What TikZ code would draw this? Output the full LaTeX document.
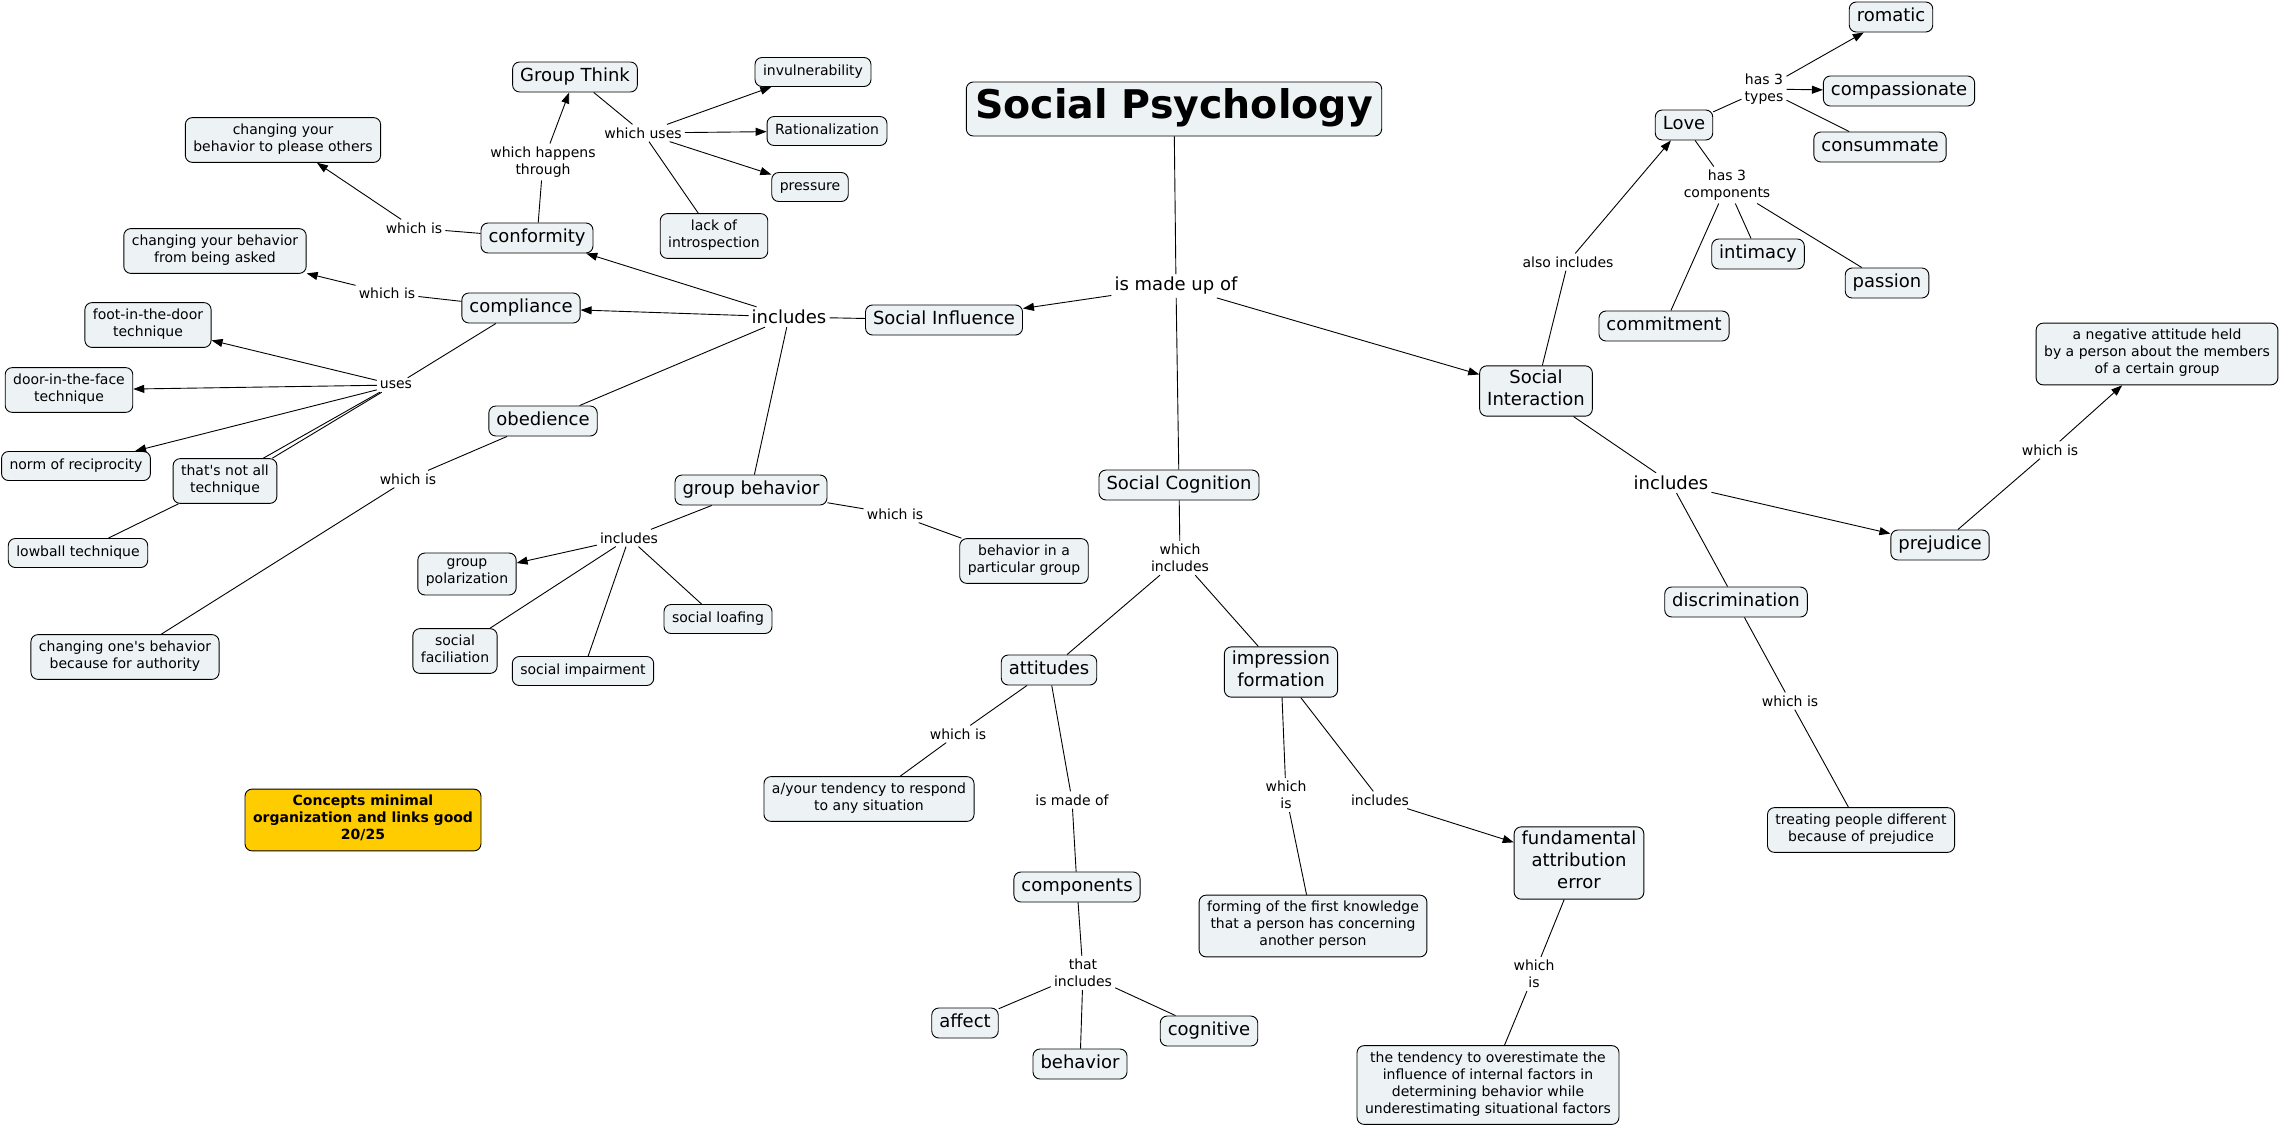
\documentclass[tikz,border=0pt]{standalone}
\usepackage{fontspec}
\setmainfont{DejaVu Sans}
\usetikzlibrary{arrows.meta}
\definecolor{cfill}{RGB}{237,243,245}
\definecolor{gold}{RGB}{255,204,0}
\tikzset{
 concept/.style={draw=black, line width=0.9pt, fill=cfill, rounded corners=7pt, align=center,
   font=\fontsize{18}{22}\selectfont, inner xsep=7.5pt, inner ysep=4pt,
   execute at begin node=\strut, execute at end node=\strut},
 small/.style={concept, font=\fontsize{14}{17}\selectfont, inner xsep=8pt, inner ysep=6pt},
 link/.style={align=center, font=\fontsize{14}{17}\selectfont, inner sep=3pt},
 biglink/.style={link, font=\fontsize{18}{22}\selectfont},
 conn/.style={line width=0.9pt},
 arr/.style={conn, -{Triangle[length=11pt,width=8pt]}},
}
\begin{document}
\begin{tikzpicture}[x=1pt,y=-1pt]
\useasboundingbox (0,0) rectangle (2280,1127);
\fill[white] (0,0) rectangle (2280,1127);
% concepts
\node[concept, font=\fontsize{39.5}{48}\selectfont\bfseries, inner xsep=9pt, inner ysep=3pt] (sp) at (1174,109) {Social Psychology};
\node[concept] (si) at (944,320) {Social Influence};
\node[concept] (sc) at (1179,485) {Social Cognition};
\node[concept] (sint) at (1536,391) {Social\\Interaction};
\node[concept] (gt) at (575,77) {Group Think};
\node[concept] (conf) at (537,238) {conformity};
\node[concept] (comp) at (521,308) {compliance};
\node[concept] (obed) at (543,421) {obedience};
\node[concept] (gb) at (751,490) {group behavior};
\node[concept] (love) at (1684,125) {Love};
\node[concept] (rom) at (1891,17) {romatic};
\node[concept] (compa) at (1899,91) {compassionate};
\node[concept] (cons) at (1880,147) {consummate};
\node[concept] (intim) at (1758,254) {intimacy};
\node[concept] (pass) at (1887,283) {passion};
\node[concept] (commit) at (1664,326) {commitment};
\node[concept] (prej) at (1940,545) {prejudice};
\node[concept] (disc) at (1736,602) {discrimination};
\node[concept] (att) at (1049,670) {attitudes};
\node[concept] (impr) at (1281,672) {impression\\formation};
\node[concept] (compo) at (1077,887) {components};
\node[concept] (aff) at (965,1023) {affect};
\node[concept] (beh) at (1080,1064) {behavior};
\node[concept] (cog) at (1209,1031) {cognitive};
\node[concept] (fae) at (1579,863) {fundamental\\attribution\\error};
% small concepts
\node[small] (please) at (283,140) {changing your\\behavior to please others};
\node[small] (asked) at (215,251) {changing your behavior\\from being asked};
\node[small] (foot) at (148,325) {foot-in-the-door\\technique};
\node[small] (door) at (69,390) {door-in-the-face\\technique};
\node[small] (norm) at (76,466) {norm of reciprocity};
\node[small] (tna) at (225,481) {that\textquotesingle s not all\\technique};
\node[small] (lowball) at (78,553) {lowball technique};
\node[small] (auth) at (125,657) {changing one\textquotesingle s behavior\\because for authority};
\node[small] (invul) at (813,72) {invulnerability};
\node[small] (ratio) at (827,131) {Rationalization};
\node[small] (press) at (810,187) {pressure};
\node[small] (lack) at (714,236) {lack of\\introspection};
\node[small] (gpol) at (467,574) {group\\polarization};
\node[small] (sfac) at (455,651) {social\\faciliation};
\node[small] (simp) at (583,671) {social impairment};
\node[small] (sloaf) at (718,619) {social loafing};
\node[small] (bipg) at (1024,561) {behavior in a\\particular group};
\node[small] (tend) at (869,799) {a/your tendency to respond\\to any situation};
\node[small] (form) at (1313,926) {forming of the first knowledge\\that a person has concerning\\another person};
\node[small] (overest) at (1488,1085) {the tendency to overestimate the\\influence of internal factors in\\determining behavior while\\underestimating situational factors};
\node[small] (neg) at (2157,354) {a negative attitude held\\by a person about the members\\of a certain group};
\node[small] (treat) at (1861,830) {treating people different\\because of prejudice};
\node[small, fill=gold, font=\fontsize{14}{17}\selectfont\bfseries] (grade) at (363,820) {Concepts minimal\\organization and links good\\20/25};
% linking phrases
\node[biglink] (lmade) at (1176,286) {is made up of};
\node[biglink] (lsiinc) at (789,317) {includes};
\node[link] (lconfis) at (414,228) {which is};
\node[link] (lcompis) at (387,293) {which is};
\node[link] (lhap) at (543,162) {which happens\\through};
\node[link] (lusesgt) at (643,133) {which uses};
\node[link] (luses) at (396,385) {uses};
\node[link] (lobedis) at (408,479) {which is};
\node[link] (lgbinc) at (629,538) {includes};
\node[link] (lgbis) at (895,514) {which is};
\node[link] (lscinc) at (1180,558) {which\\includes};
\node[link] (lattis) at (958,734) {which is};
\node[link] (lmadeof) at (1072,800) {is made of};
\node[link] (lthat) at (1083,973) {that\\includes};
\node[link] (limis) at (1286,795) {which\\is};
\node[link] (liminc) at (1380,800) {includes};
\node[link] (lfaeis) at (1534,974) {which\\is};
\node[link] (lalso) at (1568,262) {also includes};
\node[link] (ltypes) at (1764,89) {has 3\\types};
\node[link] (lcompon) at (1727,185) {has 3\\components};
\node[biglink] (lsiinc2) at (1671,483) {includes};
\node[link] (lprejis) at (2050,450) {which is};
\node[link] (ldiscis) at (1790,701) {which is};
% connectors
\draw[conn] (sp) -- (lmade);
\draw[arr] (lmade) -- (si);
\draw[arr] (lmade) -- (sint);
\draw[conn] (lmade) -- (sc);
\draw[conn] (si) -- (lsiinc);
\draw[arr] (lsiinc) -- (conf);
\draw[arr] (lsiinc) -- (comp);
\draw[conn] (lsiinc) -- (obed);
\draw[conn] (lsiinc) -- (gb);
\draw[conn] (conf) -- (lconfis);
\draw[arr] (lconfis) -- (please);
\draw[conn] (conf) -- (lhap);
\draw[arr] (lhap) -- (gt);
\draw[conn] (gt) -- (lusesgt);
\draw[arr] (lusesgt) -- (invul);
\draw[arr] (lusesgt) -- (ratio);
\draw[arr] (lusesgt) -- (press);
\draw[conn] (lusesgt) -- (lack);
\draw[conn] (comp) -- (lcompis);
\draw[arr] (lcompis) -- (asked);
\draw[conn] (comp) -- (luses);
\draw[arr] (luses) -- (foot);
\draw[arr] (luses) -- (door);
\draw[arr] (luses) -- (norm);
\draw[conn] ([xshift=3pt]luses.south west) -- ([xshift=-14pt]tna.north east);
\draw[conn] ([xshift=5pt]luses.south west) -- ([xshift=-5pt]tna.north east);
\draw[conn] (tna) -- (lowball);
\draw[conn] (obed) -- (lobedis);
\draw[conn] (lobedis) -- (auth);
\draw[conn] (gb) -- (lgbinc);
\draw[arr] (lgbinc) -- (gpol);
\draw[conn] (lgbinc) -- (sfac);
\draw[conn] (lgbinc) -- (simp);
\draw[conn] (lgbinc) -- (sloaf);
\draw[conn] (gb) -- (lgbis);
\draw[conn] (lgbis) -- (bipg);
\draw[conn] (sc) -- (lscinc);
\draw[conn] (lscinc) -- (att);
\draw[conn] (lscinc) -- (impr);
\draw[conn] (att) -- (lattis);
\draw[conn] (lattis) -- (tend);
\draw[conn] (att) -- (lmadeof);
\draw[conn] (lmadeof) -- (compo);
\draw[conn] (compo) -- (lthat);
\draw[conn] (lthat) -- (aff);
\draw[conn] (lthat) -- (beh);
\draw[conn] (lthat) -- (cog);
\draw[conn] (impr) -- (limis);
\draw[conn] (limis) -- (form);
\draw[conn] (impr) -- (liminc);
\draw[arr] (liminc) -- (fae);
\draw[conn] (fae) -- (lfaeis);
\draw[conn] (lfaeis) -- (overest);
\draw[conn] (sint) -- (lalso);
\draw[arr] (lalso) -- (love);
\draw[conn] (love) -- (ltypes);
\draw[arr] (ltypes) -- (rom);
\draw[arr] (ltypes) -- (compa);
\draw[conn] (ltypes) -- (cons);
\draw[conn] (love) -- (lcompon);
\draw[conn] (lcompon) -- (intim);
\draw[conn] (lcompon) -- (pass);
\draw[conn] (lcompon) -- (commit);
\draw[conn] (sint) -- (lsiinc2);
\draw[arr] (lsiinc2) -- (prej);
\draw[conn] (lsiinc2) -- (disc);
\draw[conn] (prej) -- (lprejis);
\draw[arr] (lprejis) -- (neg);
\draw[conn] (disc) -- (ldiscis);
\draw[conn] (ldiscis) -- (treat);
\end{tikzpicture}
\end{document}
